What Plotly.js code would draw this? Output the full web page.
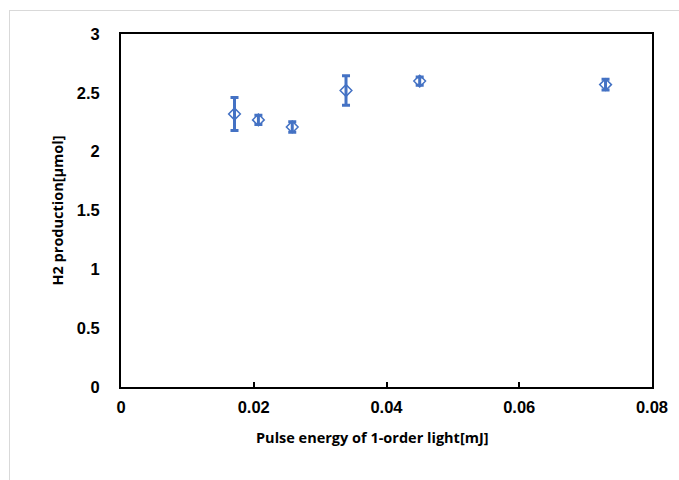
<!DOCTYPE html>
<html>
<head>
<meta charset="utf-8">
<script src="https://cdn.plot.ly/plotly-3.0.1.min.js"></script>
<style>
html,body{margin:0;padding:0;background:#fff;}
#wrap{position:relative;width:679px;height:480px;}
#chart{width:679px;height:480px;}
#frame{position:absolute;left:9px;top:10px;width:680px;height:480px;border:1px solid #d9d9d9;pointer-events:none;}
</style>
</head>
<body>
<div id="wrap"><div id="chart"></div><div id="frame"></div></div>
<script>
const energy = [0.0171, 0.0207, 0.0258, 0.0339, 0.0450, 0.0730];
const h2 = [2.32, 2.27, 2.21, 2.52, 2.60, 2.57];
const err = [0.14, 0.04, 0.045, 0.125, 0.035, 0.045];
const xTicks = [0, 0.02, 0.04, 0.06, 0.08];
const xTickText = ['0', '0.02', '0.04', '0.06', '0.08'];
const yTicks = [0, 0.5, 1, 1.5, 2, 2.5, 3];
const yTickText = ['0', '0.5', '1', '1.5', '2', '2.5', '3'];
const xTitle = 'Pulse energy of 1-order light[mJ]';
const yTitle = 'H2 production[μmol]';

const trace = {
  x: energy, y: h2, type: 'scatter', mode: 'markers',
  marker: {symbol: 'diamond-open', size: 9, color: '#4472C4', line: {width: 1.5, color: '#4472C4'}},
  error_y: {type: 'data', array: err, visible: true, color: '#4472C4', thickness: 3, width: 4},
  showlegend: false
};
const tickFont = {family: 'Liberation Sans, Arial, sans-serif', size: 16.5, color: '#000', weight: 'bold'};
const titleFont = {family: 'Open Sans, sans-serif', size: 14.5, color: '#000', weight: 'bold'};
const layout = {
  width: 679, height: 480,
  margin: {l: 120.5, r: 26.5, t: 34, b: 93},
  paper_bgcolor: '#fff', plot_bgcolor: '#fff',
  xaxis: {
    range: [0, 0.08], tickvals: xTicks, ticktext: xTickText,
    ticks: 'inside', ticklen: 5, tickwidth: 2, tickcolor: '#000',
    showgrid: false, zeroline: false,
    showline: true, linecolor: '#000', linewidth: 2, mirror: true,
    tickfont: tickFont, ticklabelstandoff: 4
  },
  yaxis: {
    range: [0, 3], tickvals: yTicks, ticktext: yTickText,
    ticks: '', showgrid: false, zeroline: false,
    showline: true, linecolor: '#000', linewidth: 2, mirror: true,
    tickfont: tickFont,
    ticklabelstandoff: 16,
    title: {text: yTitle, font: titleFont, standoff: 10}
  },
  annotations: [{
    text: xTitle, font: titleFont, showarrow: false,
    xref: 'paper', yref: 'paper', x: (372 - 120.5) / 532, y: -(437 - 387) / 353,
    xanchor: 'center', yanchor: 'middle'
  }]
};
Plotly.newPlot('chart', [trace], layout, {staticPlot: true, displayModeBar: false});
</script>
</body>
</html>
